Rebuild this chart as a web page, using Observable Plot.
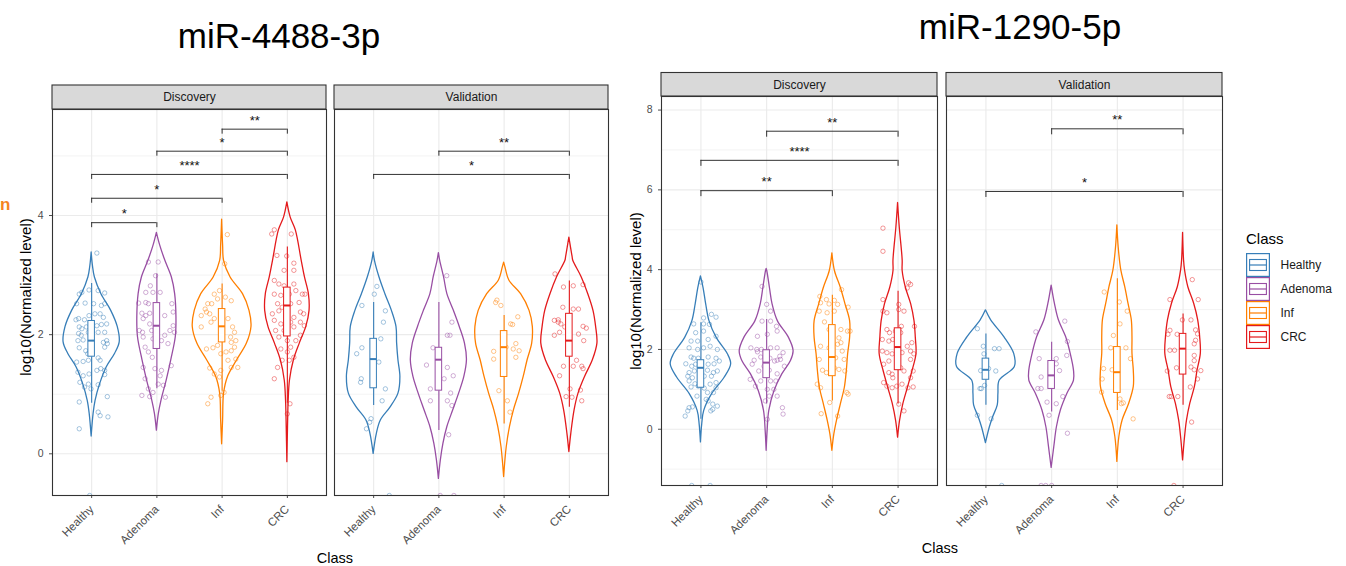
<!DOCTYPE html>
<html><head><meta charset="utf-8">
<script src="https://cdn.jsdelivr.net/npm/d3@7"></script>
<script src="https://cdn.jsdelivr.net/npm/@observablehq/plot@0.6"></script>
<style>
body{margin:0;background:#fff;font-family:"Liberation Sans",Arial,sans-serif;}
#root{position:relative;width:1346px;height:566px;overflow:hidden;background:#fff;}
.abs{position:absolute;white-space:nowrap;line-height:1;}
#root svg{position:absolute;top:0;}
[aria-label="x-axis tick label"] text,[aria-label="x-axis tick label"]{font-size:11.5px;}
</style></head><body><div id="root"></div>
<script>
// ---------- categories ----------
const classes = ["Healthy","Adenoma","Inf","CRC"];
const panels = ["Discovery","Validation"];
const classColors = ["#377EB8","#984EA3","#FF7F00","#E41A1C"];
const titleA = "miR-4488-3p", titleB = "miR-1290-5p";
const yTicksA = [0,2,4], yMinorA = [1,3,5];
const yTicksB = [0,2,4,6,8], yMinorB = [-1,1,3,5,7];

// ---------- chart A (miR-4488-3p): jittered points [dx, value] ----------
const ptsA_D_Healthy = [[-0.19,2.68],[-0.15,2.71],[-0.04,2.75],[0.10,2.74],[0.20,2.70],[-0.23,2.52],[-0.10,2.53],[0.03,2.52],[0.15,2.49],[0.20,2.52],[-0.24,2.25],[-0.20,2.27],[-0.11,2.25],[-0.04,2.32],[0.05,2.35],[0.13,2.35],[0.18,2.29],[-0.19,2.13],[-0.15,2.10],[-0.08,2.13],[0.08,2.15],[0.15,2.17],[0.23,2.18],[-0.20,2.02],[-0.16,1.99],[-0.05,2.04],[0.10,2.04],[0.20,2.04],[0.23,1.90],[0.24,1.85],[0.18,1.87],[0.20,1.79],[-0.21,1.90],[-0.13,1.91],[-0.19,1.78],[-0.09,1.73],[-0.06,1.68],[0.10,1.61],[0.13,1.57],[-0.23,1.54],[-0.13,1.55],[-0.05,1.57],[0.08,1.40],[0.14,1.43],[0.20,1.40],[-0.04,1.34],[-0.13,1.31],[-0.21,1.37],[-0.18,1.20],[-0.05,1.17],[-0.11,1.12],[-0.01,1.09],[0.10,1.16],[0.20,1.33],[0.24,0.96],[-0.19,0.87],[0.10,0.70],[0.13,0.64],[0.25,0.62],[-0.19,0.42],[0.08,3.37],[-0.03,-0.70]];
const ptsA_D_Adenoma = [[-0.13,3.22],[0.02,3.22],[-0.02,2.99],[-0.10,2.82],[-0.17,2.71],[-0.06,2.71],[0.05,2.71],[-0.28,2.53],[-0.17,2.54],[-0.13,2.52],[0.23,2.52],[-0.23,2.36],[-0.17,2.32],[-0.11,2.36],[0.12,2.32],[0.25,2.38],[-0.21,2.27],[-0.27,2.07],[-0.22,2.04],[-0.11,2.18],[-0.08,2.07],[0.20,2.07],[0.25,2.15],[0.12,1.99],[0.27,2.04],[-0.21,1.96],[-0.06,1.93],[0.07,1.90],[-0.18,1.79],[-0.13,1.71],[0.17,1.85],[-0.07,1.62],[-0.21,1.45],[0.22,1.48],[-0.03,1.43],[0.07,1.40],[-0.18,1.26],[0.02,1.17],[0.10,1.15],[-0.13,1.09],[-0.06,1.03],[-0.11,0.96],[0.13,0.95],[-0.23,0.98],[0.05,1.31]];
const ptsA_D_Inf = [[-0.04,2.74],[-0.12,2.68],[-0.22,2.52],[-0.16,2.52],[-0.26,2.43],[-0.07,2.60],[0.05,2.63],[0.14,2.57],[-0.32,2.32],[-0.24,2.38],[-0.19,2.35],[-0.12,2.27],[-0.17,2.21],[0.09,2.27],[-0.32,2.13],[0.16,2.13],[0.19,2.04],[0.13,1.96],[0.21,1.90],[0.14,1.87],[-0.07,1.82],[-0.14,1.78],[-0.24,1.76],[0.19,1.79],[0.14,1.73],[0.06,1.71],[-0.02,1.68],[0.09,1.57],[0.21,1.59],[0.24,1.45],[0.14,1.45],[-0.02,1.40],[-0.12,1.34],[-0.04,1.29],[-0.19,1.44],[0.03,1.03],[-0.02,0.98],[-0.17,0.95],[-0.22,0.84],[0.08,3.68],[0.04,3.19]];
const ptsA_D_CRC = [[-0.20,2.91],[-0.13,2.85],[-0.05,2.82],[0.10,2.85],[0.23,2.68],[-0.20,2.68],[-0.10,2.66],[0.03,2.68],[0.13,2.74],[-0.15,2.52],[-0.08,2.46],[0.05,2.52],[0.18,2.54],[-0.23,2.35],[-0.13,2.40],[0.00,2.35],[0.20,2.38],[0.10,2.29],[0.25,2.35],[-0.20,2.24],[-0.10,2.18],[-0.03,2.15],[0.05,2.21],[0.20,2.21],[0.26,2.15],[-0.18,2.07],[-0.05,2.07],[0.10,2.13],[-0.13,1.96],[0.00,1.90],[0.20,1.99],[0.13,1.90],[0.05,1.79],[-0.10,1.76],[0.00,1.71],[0.10,1.62],[-0.15,1.45],[-0.08,1.57],[0.03,1.57],[-0.20,1.26],[0.04,0.84],[0.00,0.67],[-0.05,3.08],[0.10,3.08],[0.27,2.68],[-0.20,3.76],[-0.24,3.69],[0.06,3.69],[-0.16,3.33],[-0.01,3.32],[0.10,3.20]];
const ptsA_V_Healthy = [[0.05,2.81],[0.01,2.68],[-0.18,2.49],[0.18,2.40],[0.15,2.21],[0.11,1.93],[-0.18,1.78],[-0.26,1.68],[0.08,1.54],[-0.19,1.26],[-0.20,1.20],[0.18,1.09],[0.13,0.89],[-0.04,0.59],[-0.06,0.53],[-0.11,0.42],[0.24,-0.70]];
const ptsA_V_Adenoma = [[0.12,2.99],[0.20,2.21],[0.13,1.99],[0.17,1.99],[-0.09,1.78],[-0.19,1.49],[0.13,1.45],[0.22,1.31],[0.08,1.26],[-0.13,1.09],[0.18,1.02],[-0.13,0.89],[0.13,0.89],[0.20,0.81],[0.15,0.32],[0.02,-0.70],[0.23,-0.70]];
const ptsA_V_Inf = [[-0.11,2.58],[-0.05,2.49],[0.10,2.18],[0.13,2.17],[0.21,2.30],[0.18,1.85],[0.14,1.76],[0.18,1.62],[0.23,1.73],[-0.16,1.72],[-0.16,1.59],[0.03,1.79],[-0.08,1.06],[0.05,0.89],[0.09,0.70],[-0.13,2.54]];
const ptsA_V_CRC = [[-0.22,3.02],[-0.09,2.80],[0.06,2.82],[0.21,2.84],[-0.10,2.46],[0.06,2.43],[0.14,2.43],[-0.23,2.24],[-0.17,2.25],[-0.13,2.18],[-0.15,2.04],[-0.07,2.13],[-0.23,1.99],[0.14,2.01],[0.21,2.14],[0.26,2.11],[0.22,1.90],[0.11,1.57],[-0.09,1.47],[0.06,1.47],[0.19,1.47],[0.21,1.43],[-0.15,1.31],[0.01,1.09],[0.17,1.07],[-0.05,0.96],[0.04,0.95],[0.19,0.89],[-0.17,2.21]];

// violin outlines [value, half-width in category units]
const vioA_D_Healthy = [[3.38,0],[3.15,0.02],[2.96,0.05],[2.68,0.15],[2.40,0.30],[2.13,0.40],[1.87,0.43],[1.68,0.36],[1.45,0.23],[1.17,0.13],[0.89,0.06],[0.67,0.03],[0.29,0]];
const vioA_D_Adenoma = [[3.71,0],[3.50,0.05],[3.24,0.13],[2.96,0.23],[2.68,0.28],[2.29,0.30],[1.96,0.29],[1.57,0.22],[1.23,0.15],[0.89,0.07],[0.67,0.03],[0.39,0]];
const vioA_D_Inf = [[3.93,0],[3.50,0.015],[3.24,0.03],[2.96,0.13],[2.68,0.32],[2.40,0.42],[2.13,0.45],[1.85,0.38],[1.57,0.23],[1.29,0.09],[1.01,0.03],[0.56,0.015],[0.16,0]];
const vioA_D_CRC = [[4.22,0],[3.97,0.05],[3.75,0.13],[3.24,0.22],[2.96,0.27],[2.68,0.33],[2.40,0.34],[2.13,0.29],[1.85,0.19],[1.57,0.10],[1.23,0.04],[0.89,0.02],[0.45,0.01],[-0.14,0]];
const vioA_V_Healthy = [[3.38,0],[3.24,0.02],[2.96,0.09],[2.68,0.18],[2.40,0.28],[2.13,0.35],[1.85,0.36],[1.57,0.38],[1.29,0.41],[1.01,0.38],[0.78,0.26],[0.56,0.11],[0.34,0.05],[0.00,0]];
const vioA_V_Adenoma = [[3.37,0],[3.24,0.02],[2.96,0.08],[2.68,0.13],[2.40,0.23],[2.13,0.32],[1.85,0.40],[1.57,0.43],[1.29,0.39],[1.01,0.31],[0.73,0.22],[0.45,0.13],[0.17,0.07],[-0.11,0.03],[-0.42,0]];
const vioA_V_Inf = [[3.21,0],[3.13,0.02],[2.91,0.08],[2.68,0.26],[2.40,0.39],[2.13,0.44],[1.85,0.43],[1.57,0.36],[1.29,0.30],[1.01,0.23],[0.73,0.15],[0.45,0.09],[0.11,0.04],[-0.39,0]];
const vioA_V_CRC = [[3.63,0],[3.30,0.05],[3.24,0.06],[2.96,0.19],[2.68,0.29],[2.40,0.37],[2.13,0.41],[1.85,0.43],[1.57,0.36],[1.29,0.24],[1.01,0.14],[0.73,0.08],[0.34,0.03],[0.03,0]];

// boxplots [panel, class, lower whisker, Q1, median, Q3, upper whisker]
const boxA = [
  ["Discovery","Healthy",0.85,1.63,1.90,2.23,2.86],
  ["Discovery","Adenoma",1.09,1.76,2.15,2.53,3.02],
  ["Discovery","Inf",1.05,1.87,2.14,2.43,2.85],
  ["Discovery","CRC",0.85,1.97,2.49,2.79,3.47],
  ["Validation","Healthy",0.81,1.10,1.59,1.93,2.54],
  ["Validation","Adenoma",0.39,1.06,1.58,1.78,2.54],
  ["Validation","Inf",0.50,1.29,1.79,2.06,2.32],
  ["Validation","CRC",0.78,1.63,1.90,2.35,2.90]
];
// significance brackets [panel, from, to, value, label]
const bracketsA = [
  ["Discovery","Healthy","Adenoma",3.88,"*"],
  ["Discovery","Healthy","Inf",4.29,"*"],
  ["Discovery","Healthy","CRC",4.69,"****"],
  ["Discovery","Adenoma","CRC",5.08,"*"],
  ["Discovery","Inf","CRC",5.45,"**"],
  ["Validation","Adenoma","CRC",5.08,"**"],
  ["Validation","Healthy","CRC",4.69,"*"]
];

// ---------- chart B (miR-1290-5p) ----------
const ptsB_D_Healthy = [[0.00,3.69],[0.16,2.88],[0.23,2.81],[0.04,2.79],[-0.11,2.64],[0.04,2.64],[0.13,2.63],[-0.08,2.42],[0.23,2.33],[-0.15,2.21],[-0.05,2.21],[0.11,2.25],[-0.18,2.04],[-0.05,2.00],[0.04,2.04],[0.14,2.08],[0.25,2.00],[-0.15,1.81],[-0.11,1.78],[-0.04,1.78],[0.11,1.81],[0.23,1.78],[-0.23,1.64],[-0.14,1.58],[-0.08,1.63],[0.11,1.63],[0.20,1.64],[0.28,1.71],[-0.18,1.42],[-0.10,1.46],[-0.01,1.46],[0.10,1.48],[0.19,1.42],[0.25,1.46],[-0.20,1.33],[-0.13,1.29],[0.05,1.33],[0.16,1.33],[-0.18,1.21],[-0.09,1.14],[-0.04,1.08],[0.14,1.13],[0.23,1.17],[-0.15,1.06],[0.05,1.03],[0.10,0.92],[0.19,0.92],[0.08,0.75],[0.11,0.71],[0.18,0.63],[0.15,0.46],[0.18,0.50],[-0.18,0.54],[-0.20,0.46],[-0.24,0.33],[-0.13,0.56],[0.25,0.58],[0.23,1.04],[0.04,2.46],[-0.06,0.83],[-0.14,-1.41],[0.14,-1.41]];
const ptsB_D_Adenoma = [[-0.07,3.58],[0.00,3.13],[0.06,2.96],[-0.07,2.71],[0.06,2.71],[0.15,2.58],[-0.14,2.33],[0.01,2.38],[0.16,2.46],[-0.24,2.04],[-0.14,1.94],[-0.08,2.00],[0.06,2.04],[0.16,2.04],[0.25,1.92],[-0.19,1.73],[-0.09,1.81],[0.05,1.78],[0.16,1.73],[0.21,1.75],[-0.22,1.63],[-0.04,1.58],[0.12,1.71],[-0.12,1.46],[0.04,1.48],[0.16,1.39],[-0.25,1.25],[-0.09,1.21],[0.06,1.21],[0.14,1.21],[-0.17,1.08],[0.01,1.00],[0.11,1.00],[0.04,0.83],[-0.02,0.71],[0.16,0.83],[0.24,0.54],[0.25,0.38],[0.01,0.25],[-0.15,2.00],[0.20,1.83],[0.27,1.58]];
const ptsB_D_Inf = [[-0.19,3.33],[-0.09,3.25],[0.03,3.23],[0.14,3.50],[-0.18,3.17],[-0.05,3.14],[0.08,3.13],[-0.20,2.96],[-0.08,2.92],[0.03,2.96],[0.24,3.06],[-0.12,2.69],[-0.05,2.50],[0.13,2.50],[0.23,2.46],[0.27,2.46],[0.10,2.29],[-0.18,2.08],[-0.05,2.04],[0.08,2.13],[0.13,2.17],[0.15,1.96],[0.18,1.75],[-0.20,1.75],[-0.15,1.48],[0.03,1.54],[0.10,1.50],[0.19,1.46],[-0.09,1.42],[0.05,1.79],[-0.23,1.13],[-0.18,1.04],[0.22,0.92],[0.24,0.88],[-0.04,0.67],[-0.17,0.39],[0.08,0.33]];
const ptsB_D_CRC = [[-0.23,3.25],[-0.23,2.96],[-0.17,2.92],[0.01,3.00],[0.09,2.96],[0.01,3.13],[0.14,3.54],[0.19,3.63],[0.16,3.67],[-0.24,2.25],[-0.14,2.21],[-0.08,2.25],[0.14,2.08],[0.21,2.17],[0.25,2.58],[0.05,2.58],[-0.17,2.50],[-0.13,2.42],[0.04,2.42],[-0.24,1.96],[-0.17,1.92],[-0.09,1.89],[0.06,1.92],[0.19,1.96],[0.24,1.89],[-0.22,1.63],[-0.14,1.71],[0.04,1.54],[0.19,1.75],[0.23,1.46],[-0.14,1.42],[-0.09,1.38],[0.09,1.46],[0.19,1.29],[-0.22,1.17],[-0.17,1.08],[-0.09,1.04],[-0.02,1.08],[0.06,1.13],[0.15,1.04],[0.23,1.06],[0.01,0.63],[0.09,0.46],[-0.08,1.29],[-0.04,2.46],[-0.23,5.04],[-0.23,4.46]];
const ptsB_V_Healthy = [[-0.13,2.52],[-0.04,2.08],[0.13,2.02],[0.20,2.02],[-0.03,1.89],[-0.08,1.47],[0.04,1.52],[0.15,1.46],[-0.09,1.02],[-0.07,1.02],[-0.02,1.10],[-0.13,0.35],[0.08,0.26],[0.24,-1.41]];
const ptsB_V_Adenoma = [[-0.24,2.44],[0.20,2.71],[0.24,2.20],[-0.19,1.77],[0.07,1.77],[0.12,1.47],[0.07,1.64],[0.23,1.85],[-0.16,1.31],[-0.21,1.02],[-0.16,1.02],[0.17,0.82],[-0.07,0.68],[0.07,0.64],[-0.04,0.35],[0.24,-0.10],[-0.16,-1.41],[-0.09,-1.41],[0.00,-1.41]];
const ptsB_V_Inf = [[-0.20,3.44],[0.15,2.96],[0.04,2.64],[-0.06,2.35],[0.13,2.04],[0.20,1.77],[-0.10,2.04],[-0.21,1.52],[-0.23,1.26],[-0.08,1.49],[0.00,1.47],[-0.24,0.93],[0.04,0.76],[0.09,0.66],[0.06,0.64],[0.24,0.26],[0.03,3.19]];
const ptsB_V_CRC = [[0.14,3.75],[-0.20,3.25],[0.23,3.25],[-0.01,2.74],[0.12,2.74],[-0.20,2.48],[-0.23,2.38],[-0.09,2.38],[0.22,2.39],[0.19,2.23],[-0.20,1.98],[-0.13,1.98],[0.17,2.14],[0.17,1.85],[-0.10,1.54],[0.12,1.56],[-0.24,1.46],[0.27,1.47],[0.17,1.49],[0.22,1.26],[0.11,1.06],[-0.21,0.82],[-0.18,0.82],[-0.08,0.82],[0.13,0.18],[0.19,2.49],[0.17,1.72],[-0.14,-1.41]];

const vioB_D_Healthy = [[3.83,0],[3.54,0.04],[3.13,0.08],[2.71,0.13],[2.29,0.24],[1.88,0.41],[1.63,0.46],[1.29,0.36],[0.88,0.17],[0.46,0.05],[0.13,0.02],[-0.33,0]];
const vioB_D_Adenoma = [[4.02,0],[3.96,0.01],[3.54,0.05],[3.13,0.09],[2.71,0.17],[2.29,0.34],[1.96,0.41],[1.71,0.37],[1.38,0.24],[0.96,0.12],[0.46,0.04],[-0.04,0.015],[-0.54,0]];
const vioB_D_Inf = [[4.41,0],[3.96,0.04],[3.54,0.13],[3.13,0.20],[2.71,0.27],[2.29,0.27],[1.88,0.24],[1.46,0.22],[1.04,0.19],[0.63,0.13],[0.21,0.07],[-0.13,0.03],[-0.54,0]];
const vioB_D_CRC = [[5.67,0],[5.07,0.025],[4.23,0.07],[3.96,0.07],[3.54,0.12],[3.13,0.20],[2.71,0.25],[2.29,0.27],[1.88,0.28],[1.46,0.22],[1.04,0.15],[0.63,0.08],[0.21,0.03],[-0.21,0]];
const vioB_V_Healthy = [[2.98,0],[2.73,0.08],[2.31,0.28],[1.89,0.43],[1.56,0.44],[1.22,0.21],[0.89,0.19],[0.60,0.18],[0.30,0.11],[0.05,0.06],[-0.35,0]];
const vioB_V_Adenoma = [[3.60,0],[3.14,0.05],[2.73,0.11],[2.31,0.22],[1.89,0.29],[1.47,0.34],[1.22,0.34],[0.89,0.24],[0.47,0.14],[0.05,0.08],[-0.45,0.04],[-0.97,0]];
const vioB_V_Inf = [[5.11,0],[4.56,0.02],[3.98,0.06],[3.56,0.12],[3.14,0.17],[2.73,0.22],[2.31,0.23],[1.89,0.23],[1.47,0.25],[1.06,0.25],[0.64,0.18],[0.22,0.08],[-0.20,0.03],[-0.82,0]];
const vioB_V_CRC = [[4.92,0],[4.23,0.015],[3.98,0.03],[3.56,0.08],[3.14,0.17],[2.73,0.23],[2.31,0.26],[1.89,0.27],[1.47,0.22],[1.06,0.18],[0.64,0.11],[0.22,0.06],[-0.20,0.03],[-0.78,0]];

const boxB = [
  ["Discovery","Healthy",0.25,1.04,1.54,1.73,2.67],
  ["Discovery","Adenoma",0.63,1.28,1.67,1.98,2.75],
  ["Discovery","Inf",0.71,1.33,1.81,2.61,3.36],
  ["Discovery","CRC",0.63,1.48,2.06,2.53,3.46],
  ["Validation","Healthy",0.60,1.24,1.49,1.77,2.39],
  ["Validation","Adenoma",0.43,1.01,1.35,1.71,2.18],
  ["Validation","Inf",0.47,0.91,1.43,2.06,3.77],
  ["Validation","CRC",0.60,1.37,2.02,2.39,2.89]
];
const bracketsB = [
  ["Discovery","Healthy","Inf",5.98,"**"],
  ["Discovery","Healthy","CRC",6.74,"****"],
  ["Discovery","Adenoma","CRC",7.47,"**"],
  ["Validation","Adenoma","CRC",7.53,"**"],
  ["Validation","Healthy","CRC",5.96,"*"]
];

// ---------- build ----------
const FONT = '"Liberation Sans", Arial, Helvetica, sans-serif';
const pos = c => classes.indexOf(c) + 1;

function gather(prefix, store) {
  const out = {};
  for (const p of panels) for (const c of classes) out[p + "|" + c] = store[prefix + "_" + p[0] + "_" + c];
  return out;
}
const store = {ptsA_D_Healthy, ptsA_D_Adenoma, ptsA_D_Inf, ptsA_D_CRC, ptsA_V_Healthy, ptsA_V_Adenoma, ptsA_V_Inf, ptsA_V_CRC,
  vioA_D_Healthy, vioA_D_Adenoma, vioA_D_Inf, vioA_D_CRC, vioA_V_Healthy, vioA_V_Adenoma, vioA_V_Inf, vioA_V_CRC,
  ptsB_D_Healthy, ptsB_D_Adenoma, ptsB_D_Inf, ptsB_D_CRC, ptsB_V_Healthy, ptsB_V_Adenoma, ptsB_V_Inf, ptsB_V_CRC,
  vioB_D_Healthy, vioB_D_Adenoma, vioB_D_Inf, vioB_D_CRC, vioB_V_Healthy, vioB_V_Adenoma, vioB_V_Inf, vioB_V_CRC};

function makeChart(cfg) {
  const {pts, vio, box, brackets, yDomain, yTicks, yMinor, width, height, marginLeft, marginRight, marginTop, marginBottom, fxPad, stripPx, tipPx} = cfg;
  const ppu = (height - marginTop - marginBottom) / (yDomain[1] - yDomain[0]);
  const yTop = yDomain[1], yStrip = yTop + stripPx / ppu, tip = tipPx / ppu;
  const vioRows = [], ptRows = [];
  for (const p of panels) for (const c of classes) {
    const k = p + "|" + c, x0 = pos(c);
    for (const [v, hw] of vio[k]) vioRows.push({panel: p, cls: c, v, x1: x0 - hw, x2: x0 + hw});
    for (const [dx, v] of pts[k]) ptRows.push({panel: p, cls: c, v, x: x0 + dx});
  }
  const boxRows = box.map(([panel, cls, lo, q1, med, q3, hi]) => ({panel, cls, lo, q1, med, q3, hi, p: pos(cls)}));
  const brRows = brackets.map(([panel, a, b, y, label]) => ({panel, a: pos(a), b: pos(b), y, label}));
  const brEnds = brRows.flatMap(d => [{panel: d.panel, x: d.a, y: d.y}, {panel: d.panel, x: d.b, y: d.y}]);
  const strips = panels.map(p => ({panel: p}));
  return Plot.plot({
    width, height, marginLeft, marginRight, marginTop, marginBottom,
    style: {fontFamily: FONT, fontSize: "10.5px", color: "#4D4D4D", background: "transparent", overflow: "visible"},
    fx: {domain: panels, paddingInner: fxPad, paddingOuter: 0, round: false, axis: null, label: null},
    x: {domain: [0.4, 4.6], ticks: [1,2,3,4], tickFormat: i => classes[i - 1], tickRotate: -45, tickSize: 3, label: null},
    y: {domain: yDomain, ticks: yTicks, tickFormat: d => String(d), tickSize: 3, label: null},
    color: {domain: classes, range: classColors},
    marks: [
      Plot.ruleY(yMinor, {stroke: "#F0F0F0", strokeWidth: 0.8}),
      Plot.ruleY(yTicks, {stroke: "#EBEBEB", strokeWidth: 1.1}),
      Plot.ruleX([1,2,3,4], {stroke: "#EBEBEB", strokeWidth: 1.1}),
      Plot.areaX(vioRows, {fx: "panel", y: "v", x1: "x1", x2: "x2", z: "cls", stroke: "cls", fill: "none", strokeWidth: 1.3, curve: "catmull-rom"}),
      Plot.dot(ptRows, {fx: "panel", x: "x", y: "v", stroke: "cls", r: 2.2, strokeWidth: 0.9, strokeOpacity: 0.5, fill: "none", clip: true}),
      Plot.ruleX(boxRows, {fx: "panel", x: "p", y1: "lo", y2: "q1", stroke: "cls", strokeWidth: 1.1}),
      Plot.ruleX(boxRows, {fx: "panel", x: "p", y1: "q3", y2: "hi", stroke: "cls", strokeWidth: 1.1}),
      Plot.rect(boxRows, {fx: "panel", x1: d => d.p - 0.05, x2: d => d.p + 0.05, y1: "q1", y2: "q3", fill: "white", stroke: "cls", strokeWidth: 1}),
      Plot.ruleY(boxRows, {fx: "panel", y: "med", x1: d => d.p - 0.05, x2: d => d.p + 0.05, stroke: "cls", strokeWidth: 2}),
      Plot.ruleY(brRows, {fx: "panel", y: "y", x1: "a", x2: "b", stroke: "#333", strokeWidth: 1}),
      Plot.ruleX(brEnds, {fx: "panel", x: "x", y1: "y", y2: d => d.y - tip, stroke: "#333", strokeWidth: 1}),
      Plot.text(brRows, {fx: "panel", x: d => (d.a + d.b) / 2, y: "y", text: "label", dy: -8.5, fontSize: 13, fill: "#111"}),
      Plot.frame({stroke: "#333", strokeWidth: 1.1}),
      Plot.rect(strips, {fx: "panel", x1: () => 0.4, x2: () => 4.6, y1: () => yTop, y2: () => yStrip, fill: "#D9D9D9", stroke: "#333", strokeWidth: 1.1}),
      Plot.text(strips, {fx: "panel", x: () => 2.5, y: () => (yTop + yStrip) / 2, text: "panel", fontSize: 12, fill: "#1A1A1A"})
    ]
  });
}

const root = document.getElementById("root");

const chartA = makeChart({pts: gather("ptsA", store), vio: gather("vioA", store), box: boxA, brackets: bracketsA,
  yDomain: [-0.70, 5.78], yTicks: yTicksA, yMinor: yMinorA, width: 620, height: 566,
  marginLeft: 52, marginRight: 12, marginTop: 109, marginBottom: 71, fxPad: 8 / 282, stripPx: 24, tipPx: 5});
chartA.style.left = "0px";
root.appendChild(chartA);

const chartB = makeChart({pts: gather("ptsB", store), vio: gather("vioB", store), box: boxB, brackets: bracketsB,
  yDomain: [-1.41, 8.34], yTicks: yTicksB, yMinor: yMinorB, width: 620, height: 566,
  marginLeft: 41, marginRight: 18, marginTop: 96, marginBottom: 81, fxPad: 9 / 285, stripPx: 23.5, tipPx: 6});
chartB.style.left = "620px";
root.appendChild(chartB);

// legend
const legend = Plot.plot({
  width: 100, height: 98, marginLeft: 0, marginRight: 76, marginTop: 0, marginBottom: 0,
  style: {fontFamily: FONT, background: "transparent", overflow: "visible"},
  x: {domain: [0, 1], axis: null},
  y: {domain: classes, axis: null, padding: 0},
  color: {domain: classes, range: classColors},
  marks: [
    Plot.barX(classes, {x1: 0, x2: 1, y: d => d, fill: "white", stroke: d => d, strokeWidth: 1.2, inset: 0.6}),
    Plot.ruleX(classes, {x: 0.5, y: d => d, stroke: d => d, insetTop: 2.5, insetBottom: 2.5}),
    Plot.barX(classes, {x1: 0.15, x2: 0.85, y: d => d, fill: "white", stroke: d => d, strokeWidth: 1.1, insetTop: 6.5, insetBottom: 6.5}),
    Plot.barX(classes, {x1: 0.15, x2: 0.85, y: d => d, fill: d => d, insetTop: 11.4, insetBottom: 11.4}),
    Plot.text(classes, {x: 1, y: d => d, text: d => d, dx: 10, textAnchor: "start", fontSize: 12, fill: "#1A1A1A"})
  ]
});
legend.style.left = "1246px";
legend.style.top = "252px";
root.appendChild(legend);

// text annotations
function addText(txt, css) {
  const d = document.createElement("div");
  d.className = "abs";
  d.textContent = txt;
  Object.assign(d.style, css);
  root.appendChild(d);
}
addText(titleA, {left: "279px", top: "18px", fontSize: "35px", color: "#000", transform: "translateX(-50%)"});
addText(titleB, {left: "1020px", top: "9px", fontSize: "35px", color: "#000", transform: "translateX(-50%)"});
addText("log10(Normalized level)", {left: "25px", top: "297px", fontSize: "15px", color: "#000", transform: "translate(-50%,-50%) rotate(-90deg)"});
addText("log10(Normalized level)", {left: "635px", top: "291px", fontSize: "15px", color: "#000", transform: "translate(-50%,-50%) rotate(-90deg)"});
addText("Class", {left: "335px", top: "558px", fontSize: "14.5px", color: "#000", transform: "translate(-50%,-50%)"});
addText("Class", {left: "940px", top: "548px", fontSize: "14.5px", color: "#000", transform: "translate(-50%,-50%)"});
addText("Class", {left: "1246px", top: "231px", fontSize: "15px", color: "#000"});
addText("n", {left: "0px", top: "196px", fontSize: "17px", fontWeight: "bold", color: "#F5841F"});
</script></body></html>
